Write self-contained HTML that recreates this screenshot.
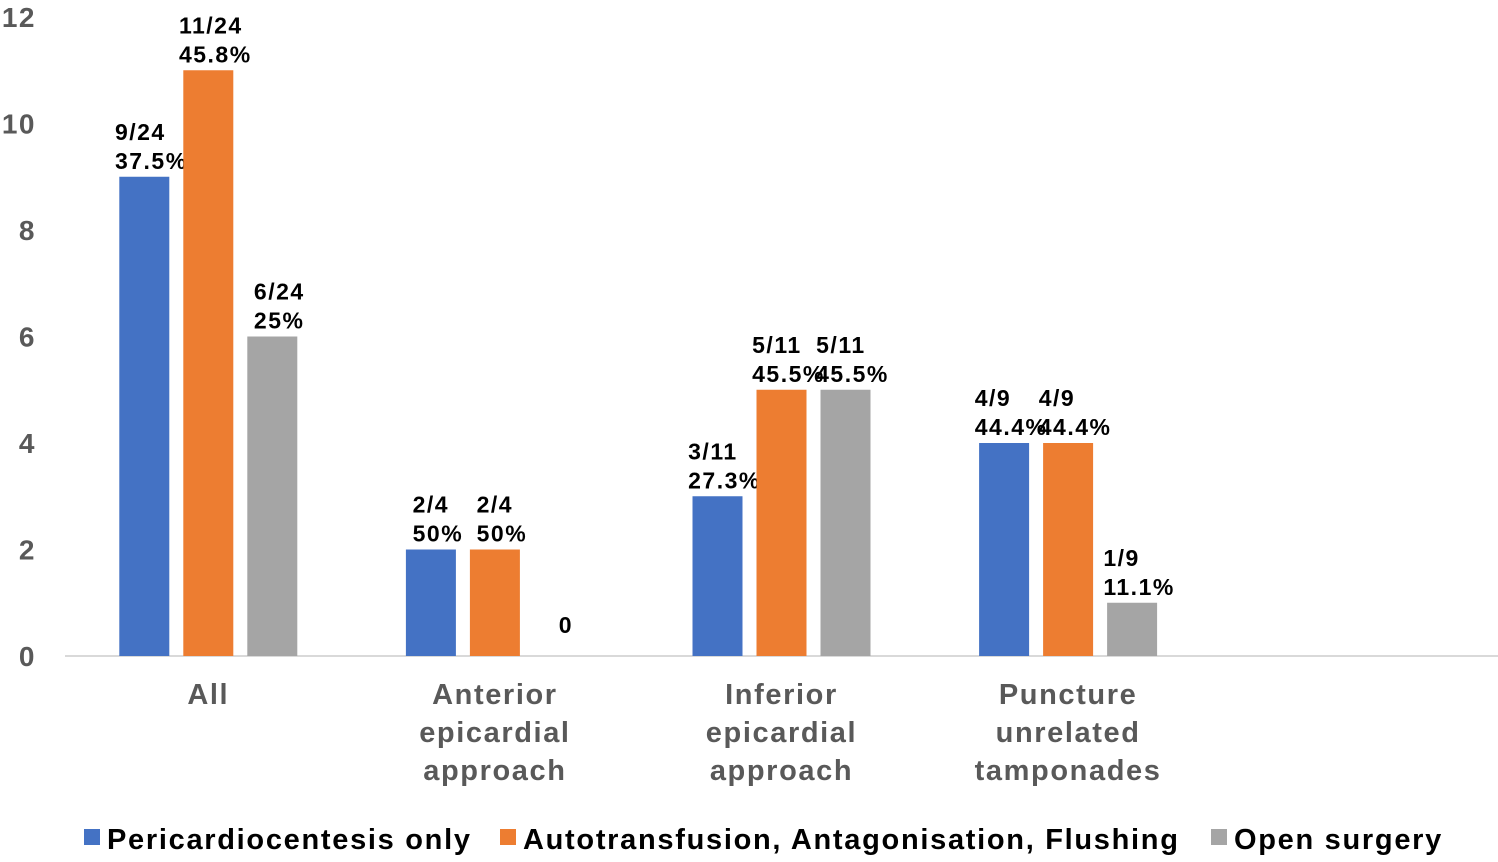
<!DOCTYPE html>
<html><head><meta charset="utf-8"><style>
body{margin:0;background:#fff;}
svg{display:block;font-family:"Liberation Sans",Arial,sans-serif;font-weight:bold;}
</style></head><body>
<svg id="chart" width="1498" height="862"></svg>
<script>
const categories=[["All"],["Anterior","epicardial","approach"],["Inferior","epicardial","approach"],["Puncture","unrelated","tamponades"],[]];
const seriesNames=["Pericardiocentesis only","Autotransfusion, Antagonisation, Flushing","Open surgery"];
const seriesColors=["#4472c4","#ed7d31","#a5a5a5"];
const pericardiocentesis=[9,2,3,4];
const autotransfusion=[11,2,5,4];
const openSurgery=[6,0,5,1];
const labelsPeri=[["9/24","37.5%"],["2/4","50%"],["3/11","27.3%"],["4/9","44.4%"]];
const labelsAuto=[["11/24","45.8%"],["2/4","50%"],["5/11","45.5%"],["4/9","44.4%"]];
const labelsOpen=[["6/24","25%"],["0"],["5/11","45.5%"],["1/9","11.1%"]];
const yTicks=[0,2,4,6,8,10,12];

const svg=document.getElementById('chart');
const NS='http://www.w3.org/2000/svg';
const x0=65,catW=286.6,y0=656,yTop=17,yMax=12;
const yScale=v=>y0-(y0-yTop)*v/yMax;
const xCenter=i=>x0+catW*(i+0.5);
function mk(tag,attrs,txt){const e=document.createElementNS(NS,tag);for(const k in attrs)e.setAttribute(k,attrs[k]);if(txt!==undefined)e.textContent=txt;svg.appendChild(e);return e;}

yTicks.forEach(t=>{
  const e=mk('text',{x:36,y:yScale(t)+10,'text-anchor':'end','font-size':28,'letter-spacing':1.5,fill:'#595959'},t);
  
  
});
const ax=mk('line',{x1:x0,x2:1498,y1:y0,y2:y0,stroke:'#d9d9d9','stroke-width':2});



const series=[pericardiocentesis,autotransfusion,openSurgery];
const labels=[labelsPeri,labelsAuto,labelsOpen];
const bw=50,off=64;
series.forEach((vals,s)=>{
  vals.forEach((v,i)=>{
    const cx=xCenter(i)+(s-1)*off;
    const y=yScale(v);
    if(v>0){
      const r=mk('rect',{x:cx-bw/2,y:y,width:bw,height:y0-y,fill:seriesColors[s]});
      
      
    }
    const lab=labels[s][i];
    const els=lab.map((ln,k)=>{
      const ty=y-8-(lab.length-1-k)*29-(v===0?15:0);
      const t=mk('text',{x:0,y:ty,'font-size':23,'letter-spacing':1.5,fill:'#000'},ln);
      
      
      return t;
    });
    const w=Math.max(...els.map(e=>e.getComputedTextLength()));
    els.forEach(e=>e.setAttribute('x',cx+7-w/2));
  });
});

categories.forEach((lines,i)=>{
  lines.forEach((ln,k)=>{
    const t=mk('text',{x:xCenter(i),y:704+k*38,'text-anchor':'middle','font-size':29,'letter-spacing':1.6,fill:'#595959'},ln);
    
    
  });
});

const legX=[84,500,1211];
seriesNames.forEach((n,s)=>{
  const r=mk('rect',{x:legX[s],y:829,width:16,height:16,fill:seriesColors[s]});
  
  
  const t=mk('text',{x:legX[s]+23,y:849,'font-size':29,'letter-spacing':1.7,fill:'#000'},n);
  
  
});
</script>
</body></html>
